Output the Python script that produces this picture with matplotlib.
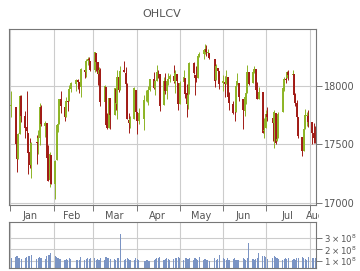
#/usr/bin/env python

import pandas as pd
import matplotlib
matplotlib.use('Agg')
import matplotlib.pyplot as plt
import matplotlib.dates as mdates
from matplotlib.transforms import Bbox, TransformedBbox

# trading days, Jan 2 - Aug 5 2015
holidays = ['2015-01-19', '2015-02-16', '2015-04-03', '2015-05-25', '2015-07-03']
dates = pd.bdate_range('2015-01-02', '2015-08-05', freq='C', holidays=holidays)

opens = [17823, 17821, 17504, 17374, 17591, 17908, 17742, 17645, 17600, 17438,
         17320, 17516, 17516, 17555, 17814, 17652, 17678, 17391, 17192, 17412,
         17165, 17363, 17663, 17677, 17883, 17820, 17733, 17866, 17866, 17975,
         18010, 18045, 18028, 17987, 18133, 18115, 18207, 18223, 18208,
         18134, 18280, 18200, 18098, 18134, 17859, 17991, 17666, 17638, 17891,
         17751, 17972, 17843, 18073, 17963, 18130, 18110, 18012, 17703, 17679,
         17715, 17965,
         17778, 17702, 17716, 17875, 17877, 17905, 17960, 18058, 17978, 18040,
         18111, 18102, 17831, 18042, 17952, 18034, 18060, 18083, 18031, 18102,
         18024,
         17845, 18027, 18061, 17935, 17838, 17928, 18192, 18092, 18071, 18063,
         18254, 18265, 18300, 18315, 18280, 18281, 18229, 18044, 18154, 18122,
         18018, 18033, 18015, 18073, 17906, 17843, 17768, 17773, 18003, 18026,
         17886, 17786, 17901, 17941, 18118, 18024, 18118, 18138, 17968, 17886,
         17945, 17612,
         17638, 17758, 17727, 17684, 17765, 17524, 17557, 17771, 17974, 18053,
         18063, 18119, 18089, 18097, 17916, 17852, 17732, 17559, 17443, 17632,
         17745, 17745,
         17690, 17596, 17556]
highs = [17951, 17821, 17562, 17597, 17916, 17916, 17782, 17952, 17600, 17552,
         17517, 17581, 17625, 17850, 17832, 17701, 17678, 17492, 17434, 17412,
         17366, 17667, 17731, 17885, 17951, 17820, 17900, 17917, 18002, 18032,
         18053, 18057, 18028, 18150, 18133, 18225, 18244, 18244, 18209,
         18289, 18280, 18200, 18160, 18146, 18008, 17991, 17764, 17898, 17891,
         17978, 17972, 18137, 18075, 18167, 18207, 18161, 18018, 17764, 17745,
         17989, 17965,
         17778, 17806, 17919, 17962, 17966, 17993, 18058, 18118, 18049, 18175,
         18129, 18102, 18071, 18103, 18051, 18107, 18097, 18175, 18133, 18102,
         18024,
         18036, 18136, 18066, 18011, 17960, 18204, 18200, 18092, 18166, 18253,
         18289, 18301, 18351, 18343, 18314, 18281, 18229, 18181, 18154, 18122,
         18094, 18080, 18130, 18073, 17946, 17867, 17831, 18033, 18109, 18026,
         17886, 17918, 17990, 18176, 18118, 18142, 18166, 18138, 18031, 17992,
         17945, 17721,
         17792, 17820, 17727, 17792, 17765, 17743, 17779, 17989, 18069, 18106,
         18124, 18137, 18137, 18097, 17938, 17874, 17733, 17559, 17631, 17797,
         17779, 17790,
         17690, 17681, 17660]
lows = [17731, 17475, 17262, 17374, 17591, 17686, 17554, 17482, 17250, 17299,
        17217, 17336, 17418, 17495, 17656, 17560, 17232, 17191, 17137, 17160,
        17038, 17363, 17602, 17677, 17766, 17700, 17733, 17787, 17866, 17946,
        17954, 17972, 17940, 17907, 18061, 18073, 18172, 18156, 18121,
        18120, 18127, 18002, 18097, 17830, 17859, 17656, 17627, 17638, 17630,
        17751, 17791, 17713, 17945, 17963, 18116, 18010, 17718, 17600, 17640,
        17715, 17776,
        17585, 17677, 17622, 17869, 17859, 17837, 17951, 17975, 17917, 18040,
        18068, 17786, 17831, 17932, 17887, 18009, 18033, 18025, 17936, 17975,
        17790,
        17845, 18027, 17898, 17736, 17798, 17928, 18101, 17922, 18032, 18063,
        18245, 18226, 18270, 18253, 18254, 18224, 17990, 18044, 18058, 17968,
        17952, 17906, 18015, 17862, 17792, 17755, 17698, 17773, 18003, 17873,
        17630, 17740, 17846, 17941, 18009, 18024, 18104, 17966, 17890, 17886,
        17593, 17556,
        17638, 17698, 17528, 17466, 17502, 17524, 17557, 17771, 17952, 18025,
        18063, 18044, 18082, 17906, 17826, 17724, 17553, 17400, 17443, 17632,
        17654, 17645,
        17500, 17510, 17513]
closes = [17833, 17502, 17372, 17585, 17908, 17737, 17641, 17614, 17427, 17321,
          17512, 17515, 17554, 17814, 17673, 17679, 17387, 17191, 17417, 17165,
          17361, 17666, 17673, 17885, 17824, 17729, 17869, 17862, 17972, 18019,
          18048, 18030, 17986, 18140, 18117, 18209, 18225, 18214, 18133,
          18289, 18203, 18097, 18136, 17857, 17996, 17663, 17635, 17895, 17749,
          17977, 17849, 18076, 17959, 18128, 18116, 18011, 17719, 17678, 17713,
          17976, 17776,
          17698, 17763, 17881, 17875, 17903, 17959, 18058, 17977, 18037, 18113,
          18106, 17826, 18035, 17950, 18038, 18059, 18080, 18038, 18110, 18036,
          17841,
          18024, 18070, 17928, 17842, 17924, 18191, 18105, 18068, 18060, 18252,
          18273, 18299, 18312, 18285, 18286, 18232, 18042, 18163, 18126, 18011,
          18040, 18012, 18076, 17906, 17849, 17767, 17764, 18000, 18039, 17899,
          17791, 17904, 17936, 18116, 18016, 18120, 18144, 17966, 17890, 17947,
          17596, 17620,
          17758, 17730, 17684, 17777, 17515, 17549, 17760, 17978, 18054, 18050,
          18120, 18086, 18100, 17919, 17851, 17732, 17569, 17441, 17630, 17751,
          17746, 17690,
          17598, 17551, 17540]
# volume in millions of shares
volumes = [125, 135, 140, 130, 125, 115, 125, 135, 140, 145,
           150, 120, 130, 135, 125, 115, 140, 148, 155, 170,
           140, 135, 125, 120, 118, 112, 118, 112, 122, 118,
           112, 108, 112, 132, 108, 118, 122, 118, 128,
           122, 112, 118, 108, 128, 112, 132, 128, 122, 118,
           118, 112, 128, 122, 335, 112, 118, 128, 118, 112,
           108, 122,
           118, 112, 102, 98, 108, 102, 98, 112, 118, 128,
           122, 138, 112, 118, 122, 118, 112, 118, 128, 122,
           138,
           128, 112, 122, 128, 118, 122, 112, 128, 118, 112,
           132, 112, 118, 112, 108, 102, 128, 112, 118, 150,
           122, 118, 112, 128, 112, 118, 122, 112, 108, 112,
           128, 118, 112, 128, 255, 118, 112, 118, 122, 165,
           145, 140,
           132, 118, 128, 140, 132, 128, 118, 112, 118, 122,
           118, 128, 112, 118, 112, 122, 128, 138, 122, 118,
           112, 132,
           128, 122, 128]

month_starts = ['2015-01-01', '2015-02-01', '2015-03-01', '2015-04-01',
                '2015-05-01', '2015-06-01', '2015-07-01', '2015-08-01']
month_labels = ['Jan', 'Feb', 'Mar', 'Apr', 'May', 'Jun', 'Jul', 'Aug']
month_label_pos = ['2015-01-15', '2015-02-14', '2015-03-16', '2015-04-15',
                   '2015-05-16', '2015-06-15', '2015-07-16', '2015-08-05']

up_color = '#8db426'
down_color = '#a11b16'
frame_color = '#777777'
grid_color = '#cccccc'
text_color = '#555555'

x = mdates.date2num(dates)
xmin = mdates.date2num(pd.Timestamp('2014-12-31 08:00'))
xmax = mdates.date2num(pd.Timestamp('2015-08-05 14:00'))
mx = mdates.date2num(pd.to_datetime(month_starts))

fig = plt.figure(figsize=(3.6, 2.71), dpi=100)
ax1 = fig.add_axes([9/360, 1 - 205/271, 307/360, 176/271])
ax2 = fig.add_axes([9/360, 1 - 268/271, 307/360, 46/271])

# price panel
colors = [up_color if c >= o else down_color for o, c in zip(opens, closes)]
ax1.vlines(x, lows, highs, colors=colors, linewidth=0.7)
ax1.vlines(x, opens, closes, colors=colors, linewidth=1.4)
ax1.set_xlim(xmin, xmax)
ax1.set_ylim(16983, 18482)
ax1.set_yticks([17000, 17500, 18000])
ax1.yaxis.tick_right()
ax1.set_xticks(mx)
ax1.set_xticklabels([])
ax1.grid(True, color=grid_color, linewidth=0.8)
ax1.set_axisbelow(True)
ax1.tick_params(axis='y', colors=frame_color, labelcolor=text_color,
                labelsize=7, length=4, width=0.7, pad=2)
ax1.tick_params(axis='x', colors=frame_color, length=4, width=0.7)

clip = TransformedBbox(Bbox([[9/360, 0], [319/360, 1]]), fig.transFigure)
for pos, lab in zip(month_label_pos, month_labels):
    t = ax1.text(mdates.date2num(pd.Timestamp(pos)), -0.035, lab,
                 transform=ax1.get_xaxis_transform(), ha='center', va='top',
                 fontsize=7, color=text_color)
    t.set_clip_box(clip)
    t.set_clip_on(True)

# volume panel
ax2.bar(x, [v * 1e6 for v in volumes], width=0.8, bottom=0,
        color='#7b94c4', linewidth=0)
ax2.set_xlim(xmin, xmax)
ax2.set_ylim(0.4e8, 4.36e8)
ax2.set_xticks(mx)
ax2.set_xticklabels([])
ax2.set_yticks([1e8, 2e8, 3e8])
ax2.set_yticklabels([r'$1\times10^{8}$', r'$2\times10^{8}$', r'$3\times10^{8}$'])
ax2.yaxis.tick_right()
ax2.grid(True, color=grid_color, linewidth=0.8)
ax2.set_axisbelow(True)
ax2.tick_params(axis='y', colors=frame_color, labelcolor=text_color,
                labelsize=6.2, length=4, width=0.7, pad=2)
ax2.tick_params(axis='x', length=0)

for ax in (ax1, ax2):
    for s in ax.spines.values():
        s.set_color(frame_color)
        s.set_linewidth(0.8)

fig.text(162/360, 1 - 14/271, 'OHLCV', ha='center', va='center',
         fontsize=8, color=text_color)

fig.savefig('out.png', dpi=100)
